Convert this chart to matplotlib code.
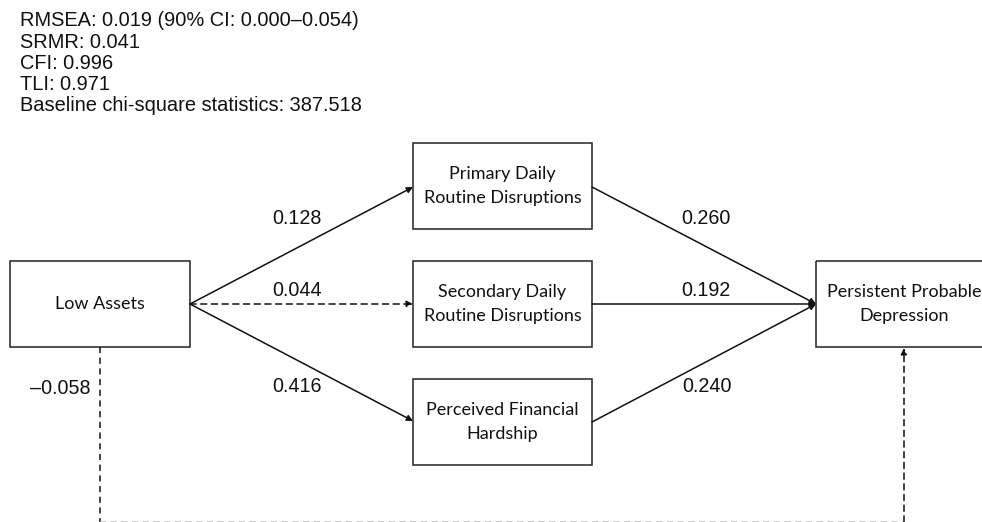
import matplotlib.pyplot as plt
from matplotlib.patches import Rectangle

# fit statistics shown above the diagram
fit_names = ["RMSEA", "SRMR", "CFI", "TLI", "Baseline chi-square statistics"]
fit_values = ["0.019 (90% CI: 0.000\u20130.054)", "0.041", "0.996", "0.971", "387.518"]

# nodes of the path model
nodes = ["Low Assets",
         "Primary Daily\nRoutine Disruptions",
         "Secondary Daily\nRoutine Disruptions",
         "Perceived Financial\nHardship",
         "Persistent Probable\nDepression"]

# paths: coefficient and whether it is drawn solid (significant)
path_coef = ["0.128", "0.044", "0.416", "0.260", "0.192", "0.240", "\u20130.058"]
path_sig = [True, False, True, True, True, True, False]

# layout in pixels (x0, y0, width, height)
boxes = [(10, 261, 180, 86), (413, 143, 179, 86), (413, 261, 179, 86),
         (413, 379, 179, 86), (816, 261, 180, 86)]
text_x = [100, 502.5, 502.5, 502.5, 904]
starts = [(190, 304), (190, 304), (190, 304), (592, 187), (592, 304), (592, 422)]
ends = [(413, 187), (413, 304), (413, 421), (816, 304), (816, 304), (816, 304)]
label_pos = [(297, 218), (297, 291), (297, 386), (706, 218), (706, 291), (707, 387), (60, 388)]

fig = plt.figure(figsize=(9.82, 5.22), dpi=100)
ax = fig.add_axes([0, 0, 1, 1])
ax.set_xlim(0, 982)
ax.set_ylim(522, 0)
ax.axis('off')

arial = 'Liberation Sans'
calibri = 'Lato'
ink = '#111111'

# header lines
for i, (n, v) in enumerate(zip(fit_names, fit_values)):
    ax.text(20, 21 + i * 21.2, f"{n}: {v}", fontsize=14.4, family=arial,
            va='center', ha='left', color=ink)

# boxes
for (x0, y0, w, h), tx, name in zip(boxes, text_x, nodes):
    ax.add_patch(Rectangle((x0, y0), w, h, fill=False, edgecolor='#222222', lw=1.1))
    ax.text(tx, y0 + h / 2, name, ha='center', va='center',
            fontsize=13, family=calibri, linespacing=1.55, color=ink)

# arrows
for s, e, sig in zip(starts, ends, path_sig):
    ax.annotate("", xy=e, xytext=s,
                arrowprops=dict(arrowstyle='-|>', color=ink, lw=1.1,
                                linestyle='-' if sig else (0, (4, 3)),
                                mutation_scale=9, shrinkA=0, shrinkB=0))

# direct effect: dashed path around the bottom (mostly cut off at the edge)
ax.plot([100, 100], [347, 522], color=ink, lw=1.1, linestyle=(0, (4, 3)))
ax.plot([100, 904], [521.6, 521.6], color='#bbbbbb', lw=1.1, linestyle=(0, (4, 3)))
ax.annotate("", xy=(904, 348), xytext=(904, 522),
            arrowprops=dict(arrowstyle='-|>', color=ink, lw=1.1,
                            linestyle=(0, (4, 3)), mutation_scale=9,
                            shrinkA=0, shrinkB=0))

# coefficients
for (x, y), c in zip(label_pos, path_coef):
    ax.text(x, y, c, ha='center', va='center', fontsize=14.2, family=arial, color=ink)

fig.savefig("out.png", dpi=100)
